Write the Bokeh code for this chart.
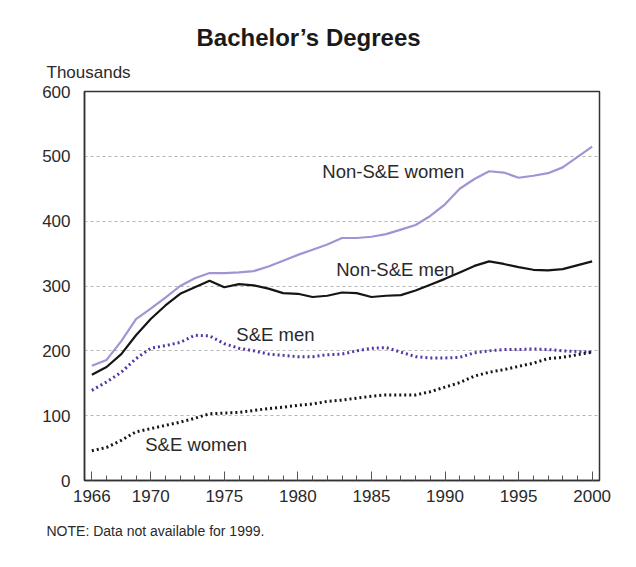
from bokeh.plotting import figure
from bokeh.models import Label, FixedTicker, Range1d, Title
from bokeh.embed import file_html
from bokeh.resources import INLINE

years = [1966, 1967, 1968, 1969, 1970, 1971, 1972, 1973, 1974, 1975, 1976, 1977,
         1978, 1979, 1980, 1981, 1982, 1983, 1984, 1985, 1986, 1987, 1988, 1989,
         1990, 1991, 1992, 1993, 1994, 1995, 1996, 1997, 1998, 2000]

non_se_women = [177, 186, 215, 249, 265, 282, 300, 312, 320, 320, 321, 323,
                330, 339, 348, 356, 364, 374, 374, 376, 380, 387, 394, 408,
                426, 450, 465, 477, 475, 467, 470, 474, 483, 515]

non_se_men = [163, 175, 195, 224, 249, 270, 288, 298, 308, 298, 303, 301,
              296, 289, 288, 283, 285, 290, 289, 283, 285, 286, 293, 302,
              311, 321, 331, 338, 334, 329, 325, 324, 326, 338]

se_men = [139, 152, 167, 188, 204, 208, 213, 224, 223, 211, 204, 200,
          195, 193, 191, 191, 194, 195, 200, 204, 205, 198, 191, 189,
          189, 190, 197, 200, 202, 202, 203, 202, 200, 198]

se_women = [46, 51, 62, 75, 80, 85, 90, 96, 103, 104, 105, 108,
            111, 113, 116, 118, 122, 124, 127, 130, 132, 132, 132, 137,
            144, 151, 161, 167, 171, 176, 181, 188, 190, 198]

x_ticks = [1966, 1970, 1975, 1980, 1985, 1990, 1995, 2000]
y_ticks = [0, 100, 200, 300, 400, 500, 600]

FONT = "Liberation Sans"
TXT = "#2a2a2a"

p = figure(width=627, height=557, output_backend="svg", toolbar_location=None,
           x_range=Range1d(1965.5, 2000.5), y_range=Range1d(0, 600),
           min_border_left=84, min_border_right=28, min_border_top=91, min_border_bottom=77)

p.outline_line_color = "#333333"
p.outline_line_width = 1.5
p.background_fill_color = "white"
p.border_fill_color = "white"

# grid
p.xgrid.grid_line_color = None
p.ygrid.ticker = FixedTicker(ticks=[100, 200, 300, 400, 500])
p.ygrid.grid_line_color = "#b5b5b5"
p.ygrid.grid_line_dash = "3 3"
p.ygrid.grid_line_width = 1

# x axis
xa = p.xaxis[0]
xa.ticker = FixedTicker(ticks=x_ticks, minor_ticks=list(range(1966, 2001)))
xa.axis_line_color = "#333333"
xa.axis_line_width = 1.5
xa.major_tick_in = 9
xa.major_tick_out = 0
xa.minor_tick_in = 5
xa.minor_tick_out = 0
xa.major_tick_line_color = "#555555"
xa.minor_tick_line_color = "#555555"
xa.major_label_text_font = FONT
xa.major_label_text_font_size = "17px"
xa.major_label_text_color = TXT
xa.major_label_standoff = 9

# y axis
ya = p.yaxis[0]
ya.ticker = FixedTicker(ticks=y_ticks)
ya.axis_line_color = "#333333"
ya.axis_line_width = 1.5
ya.major_tick_line_color = None
ya.minor_tick_line_color = None
ya.major_label_text_font = FONT
ya.major_label_text_font_size = "17px"
ya.major_label_text_color = TXT
ya.major_label_standoff = 8

# lines
p.line(years, non_se_women, line_color="#a493d4", line_width=2.2)
p.line(years, non_se_men, line_color="#151515", line_width=2.2)
p.line(years, se_men, line_color="#5535a8", line_width=3, line_dash="2 3")
p.line(years, se_women, line_color="#151515", line_width=3, line_dash="2 3")

# series labels (data units)
for txt, x, y in [("Non-S&E women", 1981.66, 476), ("Non-S&E men", 1982.61, 325),
                  ("S&E men", 1975.82, 224.7), ("S&E women", 1969.63, 55)]:
    p.add_layout(Label(x=x, y=y, text=txt, text_font=FONT, text_font_size="18.5px",
                       text_color=TXT, text_baseline="middle", text_align="left"))

# titles
p.add_layout(Title(text="Thousands", align="left", offset=-38, text_font=FONT,
                   text_font_size="17px", text_font_style="normal", text_color=TXT,
                   standoff=20), "above")
p.add_layout(Title(text="Bachelor\u2019s Degrees", align="left", offset=112, text_font=FONT,
                   text_font_size="24px", text_font_style="bold", text_color="#1a1a1a",
                   standoff=0), "above")
p.add_layout(Title(text="NOTE: Data not available for 1999.", align="left", offset=-38,
                   text_font=FONT, text_font_size="14px", text_font_style="normal",
                   text_color=TXT, standoff=33), "below")

open("out.html", "w").write(file_html(p, INLINE))
